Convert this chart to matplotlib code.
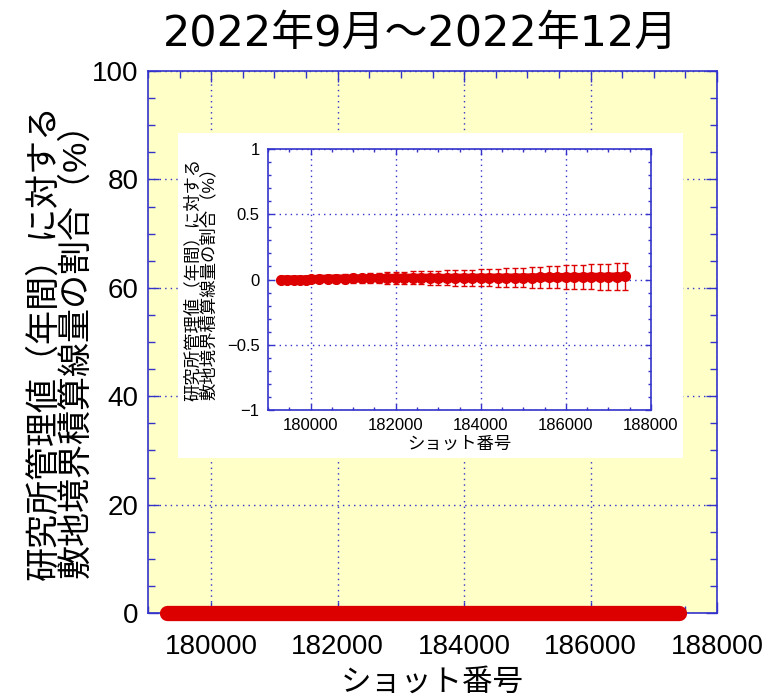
import matplotlib
matplotlib.use("Agg")
import matplotlib.pyplot as plt
from matplotlib.ticker import MultipleLocator

plt.rcParams['font.family'] = ['Liberation Sans', 'Noto Sans CJK JP', 'DejaVu Sans']

title = "2022年9月～2022年12月"
ylabel = "研究所管理値（年間）に対する\n敷地境界積算線量の割合（%）"
xlabel = "ショット番号"

# shot numbers and ratio (%)
shots = [179300, 179450, 179600, 179750, 179900, 180000,
         180200, 180400, 180600, 180800, 181000, 181200, 181400, 181600,
         181800, 182000, 182200, 182400, 182600, 182800, 183000, 183200,
         183400, 183600, 183800, 184000, 184200, 184400, 184600, 184800,
         185000, 185200, 185400, 185600, 185800, 186000, 186200, 186400,
         186600, 186800, 187000, 187200, 187400]
ratio = [0.000, 0.000, 0.000, 0.000, 0.000, 0.002,
         0.005, 0.006, 0.007, 0.007, 0.008, 0.008, 0.010, 0.011,
         0.012, 0.012, 0.013, 0.013, 0.013, 0.013, 0.012, 0.012,
         0.013, 0.013, 0.013, 0.014, 0.014, 0.014, 0.014, 0.014,
         0.015, 0.015, 0.016, 0.017, 0.018, 0.019, 0.019, 0.019,
         0.020, 0.020, 0.021, 0.022, 0.023]
err = [0.000, 0.000, 0.000, 0.000, 0.000, 0.000,
       0.025, 0.028, 0.030, 0.032, 0.034, 0.036, 0.038, 0.040,
       0.043, 0.045, 0.047, 0.049, 0.051, 0.053, 0.055, 0.057,
       0.059, 0.061, 0.063, 0.065, 0.067, 0.069, 0.071, 0.073,
       0.075, 0.077, 0.080, 0.083, 0.086, 0.089, 0.091, 0.093,
       0.095, 0.097, 0.099, 0.101, 0.104]

red = '#dd0000'
blue = '#3333cc'
W, H = 771, 697
fig = plt.figure(figsize=(W / 100, H / 100), dpi=100)


def style_axes(ax, size, major_len, minor_len, xpad, ypad):
    for s in ax.spines.values():
        s.set_color(blue)
        s.set_linewidth(1.2)
    ax.tick_params(which='both', direction='in', top=True, right=True,
                   color=blue, labelsize=size)
    ax.tick_params(axis='x', pad=xpad)
    ax.tick_params(axis='y', pad=ypad)
    ax.tick_params(which='major', length=major_len, width=1.0)
    ax.tick_params(which='minor', length=minor_len, width=1.0)
    ax.grid(True, which='major', color=blue, linestyle=(0, (1, 3)), linewidth=1.0)


# main axes
ax = fig.add_axes([148 / W, 1 - 613 / H, 569 / W, 542 / H])
ax.set_facecolor('#ffffc8')
ax.plot(shots, [r * 0 for r in ratio], color=red, linewidth=11,
        solid_capstyle='round', zorder=5, clip_on=False)
ax.set_xlim(179000, 188000)
ax.set_ylim(0, 100)
ax.xaxis.set_major_locator(MultipleLocator(2000))
ax.xaxis.set_minor_locator(MultipleLocator(500))
ax.yaxis.set_major_locator(MultipleLocator(20))
ax.yaxis.set_minor_locator(MultipleLocator(5))
style_axes(ax, 20, 8, 5, 15, 7)
ax.set_xlabel(xlabel, fontsize=22, labelpad=6)
ax.set_ylabel(ylabel, fontsize=24.5, linespacing=0.95)
ax.yaxis.set_label_coords(-0.098, 0.5)
fig.suptitle(title, fontsize=31, x=0.546, y=0.982,
             family=['DejaVu Sans', 'Noto Sans CJK JP'])

# white panel behind the inset
bg = fig.add_axes([178 / W, 1 - 458 / H, 505 / W, 325 / H])
bg.set_facecolor('white')
bg.set_xticks([])
bg.set_yticks([])
for s in bg.spines.values():
    s.set_visible(False)

# inset
ins = fig.add_axes([268 / W, 1 - 410 / H, 383 / W, 261 / H])
ins.set_facecolor('white')
ins.plot(shots, ratio, color=red, linewidth=6, solid_capstyle='round', zorder=5)
ins.errorbar(shots, ratio, yerr=err, color=red, ecolor=red, elinewidth=1.0,
             capsize=2.5, capthick=1.0, marker='o', markersize=7,
             linewidth=0, zorder=5)
ins.set_xlim(179000, 188000)
ins.set_ylim(-1, 1)
ins.xaxis.set_major_locator(MultipleLocator(2000))
ins.xaxis.set_minor_locator(MultipleLocator(500))
ins.yaxis.set_minor_locator(MultipleLocator(0.1))
ins.set_yticks([-1, -0.5, 0, 0.5, 1])
ins.set_yticklabels(['−1', '−0.5', '0', '0.5', '1'])
style_axes(ins, 12, 4, 2.5, 6, 6)
ins.set_xlabel(xlabel, fontsize=12.5, labelpad=2)
ins.set_ylabel(ylabel, fontsize=12.5, linespacing=0.95)
ins.yaxis.set_label_coords(-0.133, 0.5)

fig.savefig('out.png', dpi=100)
